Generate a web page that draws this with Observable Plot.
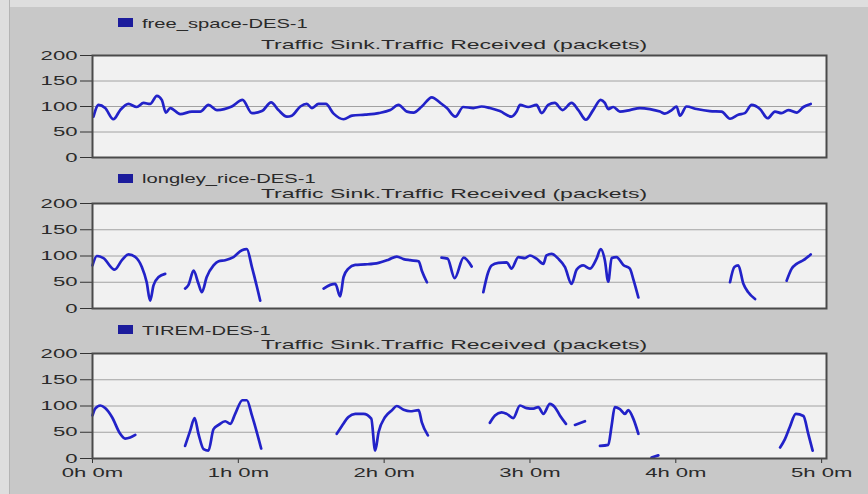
<!DOCTYPE html>
<html><head><meta charset="utf-8">
<script src="https://cdn.jsdelivr.net/npm/d3@7"></script>
<script src="https://cdn.jsdelivr.net/npm/@observablehq/plot@0.6"></script>
<style>
body{margin:0;background:#c8c8c8;}
#chart{position:relative;width:868px;height:494px;background:#c8c8c8;overflow:hidden;font-family:"Liberation Sans",Arial,sans-serif;}
#chart svg{position:absolute;left:0;top:0;}
.edgeL{position:absolute;left:0;top:0;width:9px;height:494px;background:#dedede;border-right:1px solid #b4b4b4;}
.edgeT{position:absolute;left:0;top:0;width:868px;height:7px;background:#dedede;}
.lbl{position:absolute;font-size:13px;line-height:15px;color:#2a2a2a;white-space:nowrap;transform-origin:0 50%;transform:scaleX(1.55);}
.sub{position:absolute;left:254px;width:400px;text-align:center;font-size:13px;line-height:15px;color:#2a2a2a;white-space:nowrap;transform-origin:50% 50%;transform:scaleX(1.77);}
.sw{position:absolute;left:118px;width:15px;height:9px;background:#1c1c9c;}
</style>
</head><body>
<div id="chart">
  <div class="edgeT"></div><div class="edgeL"></div>
</div>
<script>
// ---- data (time in minutes, value in packets) ----
const seriesNames = ["free_space-DES-1", "longley_rice-DES-1", "TIREM-DES-1"];
const subtitle = "Traffic Sink.Traffic Received (packets)";
const yTicks = [0, 50, 100, 150, 200];
const xTicks = [0, 60, 120, 180, 240, 300];
const xTickLabels = ["0h 0m", "1h 0m", "2h 0m", "3h 0m", "4h 0m", "5h 0m"];

const freeT = [0.4,2.5,5.2,8.6,11.4,14.8,18.2,21.0,23.7,26.5,28.5,30.2,32.0,36.1,40.9,44.3,47.7,51.2,57.3,61.7,65.6,69.7,73.5,76.5,80.0,82.0,85.5,88.2,90.3,93.0,96.0,99.2,103.3,106.8,112.2,117.7,122.5,125.9,129.4,132.1,135.5,139.6,143.1,145.8,149.3,
  152.5,156.7,160.1,163.5,167.6,172.4,174.5,175.9,179.3,182.7,184.8,187.5,190.2,193.4,197.1,199.9,203.0,206.0,209.1,210.8,212.2,214.3,217.0,221.1,225.2,229.3,233.5,235.5,238.3,240.3,241.7,244.4,248.6,254.0,258.8,262.3,265.7,268.4,271.2,274.6,277.8,280.8,283.5,286.3,289.7,292.5,295.5];
const freeV = [80,103,97,75,93,105,99,107,105,121,113,88,97,85,90,90,103,93,100,113,87,91,108,93,80,82,100,105,97,105,105,86,75,82,84,87,93,103,90,88,100,118,107,97,80,
  99,97,100,97,91,80,90,103,99,103,87,103,107,93,107,93,74,93,113,107,95,99,90,93,97,95,90,86,93,100,82,100,95,91,90,76,84,87,103,95,77,90,87,93,88,99,105];

const longleyT = [0,1.8,4.5,9.1,12.1,14.8,17.6,20.3,22.3,23.7,25.1,27.2,29.9, 34,
  38.1,39.5,41.6,43.6,45.0,47.0,49.8,51.9,54.6,58.0,61.5,63.5,65.6,69.0, 80,
  95.1,97.8,99.9,101.9,103.3,105.3,108.1,112.2,117.7,121.8,125.2,128.0,130.7,134.2,135.5,137.6, 140,
  143.6,146.1,149.0,152.7,156.0, 158,
  160.8,162.8,164.2,167.0,170.4,172.4,175.2,177.9,180.0,182.7,185.5,186.8,188.9,191.6,194.4,197.1,199.2,201.9,204.7,207.4,209.1,210.8,212.2,213.6,215.6,218.4,221.1,222.5,224.6, 240,
  262.3,264.1,265.7,267.8,269.8,272.6, 280,
  285.6,287.7,289.7,292.5,295.5];
const longleyV = [82,100,96,74,92,103,98,79,50,15,44,60,66, null,
  38,45,72,47,31,60,82,90,92,98,111,113,79,15, null,
  38,45,47,23,60,76,83,84,87,93,99,94,92,90,72,50, null,
  97,95,58,97,80, null,
  31,69,82,87,88,76,98,96,101,95,85,101,104,95,79,47,74,82,76,95,113,92,51,96,98,83,76,56,21, null,
  50,79,82,47,31,18, null,
  53,76,85,92,103];

const tiremT = [0,1.1,3.2,5.2,8.0,11.4,13.4,15.5,17.6, 28,
  38.1,40.2,42.0,43.6,45.7,47.7,49.8,51.9,54.6,56.7,58.7,61.7,63.5,65.6,69.4, 85,
  100.5,102.6,105.3,108.1,111.5,114.7,116.3,117.7,120.4,123.2,125.2,128.0,130.7,134.2,135.5,138.0, 150,
  163.5,165.6,168.3,170.4,173.1,175.9,178.6,181.4,183.4,185.5,188.2,190.2,192.3,194.8, 196,
  198.5,202.6, 205,
  208.8,212.2,213.6,214.9,217.0,219.1,220.4,222.5,224.6, 227,
  230.0,232.8, 260,
  282.9,284.9,286.9,289.4,292.5,294.5,296.3];
const tiremV = [82,95,101,96,79,47,38,40,45, null,
  24,53,77,47,18,15,56,64,71,66,85,111,111,82,19, null,
  47,62,79,85,85,76,15,50,79,92,100,93,90,92,69,44, null,
  68,82,88,85,77,101,96,95,98,85,104,98,82,66, null,
  64,71, null,
  24,26,63,98,94,85,92,76,47, null,
  2,6, null,
  21,37,60,85,81,47,15];

function rows(T, V) {
  if (T.length !== V.length) throw new Error("length mismatch " + T.length + " vs " + V.length);
  return T.map((t, i) => ({t, v: V[i]}));
}

const panels = [
  {data: rows(freeT, freeV), top: 55, bottom: 157, legendY: 23, swY: 18, subY: 44},
  {data: rows(longleyT, longleyV), top: 203, bottom: 308, legendY: 178, swY: 174, subY: 193},
  {data: rows(tiremT, tiremV), top: 353, bottom: 458, legendY: 330, swY: 325, subY: 344}
];

const chart = document.getElementById("chart");
const W = 868, H = 494;

panels.forEach((p, k) => {
  const last = k === panels.length - 1;
  const svg = Plot.plot({
    width: W, height: H,
    marginLeft: 92, marginRight: 42, marginTop: p.top, marginBottom: H - p.bottom,
    style: {background: "transparent", fontFamily: "Liberation Sans, Arial, sans-serif", fontSize: "13px", color: "#2a2a2a"},
    x: {domain: [0, 302], axis: null},
    y: {domain: [0, 200], axis: null},
    marks: [
      Plot.frame({fill: "#f1f1f1"}),
      Plot.gridY([50, 100, 150], {stroke: "#a2a2a2", strokeOpacity: 1, strokeWidth: 1}),
      Plot.axisY(yTicks, {anchor: "left", tickSize: 12, tickPadding: 3, stroke: "#333", fill: "#2a2a2a", fontSize: 13, label: null}),
      last ? Plot.axisX(xTicks, {anchor: "bottom", tickSize: 5, tickPadding: 4, stroke: "#333", fill: "#2a2a2a", fontSize: 13, label: null,
        tickFormat: d => xTickLabels[xTicks.indexOf(d)]}) : null,
      Plot.line(p.data, {x: "t", y: "v", stroke: "#2222c8", strokeWidth: 2.7, curve: "monotone-x", strokeLinejoin: "round", strokeLinecap: "round"}),
      Plot.frame({stroke: "#4a4a4a", strokeWidth: 2})
    ]
  });
  chart.appendChild(svg);
  // horizontal stretch of axis texts, like the reference picture
  svg.querySelectorAll("text").forEach(t => {
    const len = t.getComputedTextLength();
    if (len > 0) { t.setAttribute("textLength", (len * 1.7).toFixed(1)); t.setAttribute("lengthAdjust", "spacingAndGlyphs"); }
  });

  const sw = document.createElement("div");
  sw.className = "sw"; sw.style.top = p.swY + "px";
  chart.appendChild(sw);
  const lg = document.createElement("div");
  lg.className = "lbl"; lg.style.left = "142px"; lg.style.top = (p.legendY - 7.5) + "px";
  lg.textContent = seriesNames[k];
  chart.appendChild(lg);
  const sb = document.createElement("div");
  sb.className = "sub"; sb.style.top = (p.subY - 7.5) + "px";
  sb.textContent = subtitle;
  chart.appendChild(sb);
});
</script>
</body></html>
